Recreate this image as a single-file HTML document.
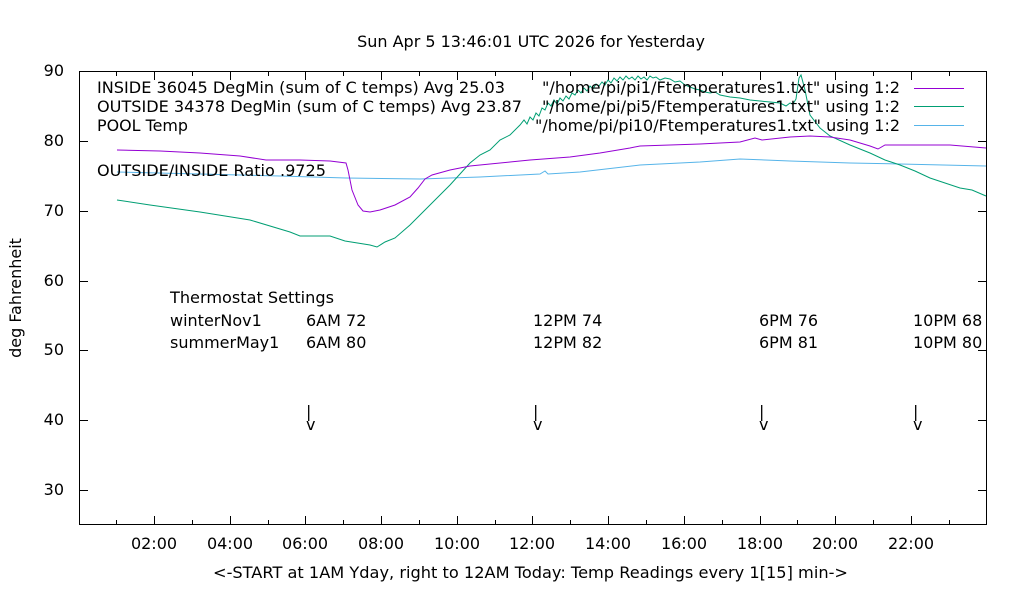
<!DOCTYPE html>
<html><head><meta charset="utf-8"><style>
html,body{margin:0;padding:0;background:#fff;}
svg{display:block;}
text{font-family:"DejaVu Sans","Liberation Sans",sans-serif;font-size:16px;fill:#000;}
</style></head><body>
<svg width="1020" height="600" viewBox="0 0 1020 600" xmlns="http://www.w3.org/2000/svg" xml:space="preserve">
<rect width="1020" height="600" fill="#fff"/>
<text x="531" y="47" text-anchor="middle">Sun Apr  5 13:46:01 UTC 2026 for Yesterday</text>
<rect x="79.5" y="71.5" width="907" height="453" fill="none" stroke="#000" stroke-width="1"/>
<g stroke="#000" stroke-width="1">
<path d="M80 71.5h8M986 71.5h-8M80 141.5h8M986 141.5h-8M80 211.5h8M986 211.5h-8M80 281.5h8M986 281.5h-8M80 350.5h8M986 350.5h-8M80 420.5h8M986 420.5h-8M80 490.5h8M986 490.5h-8"/>
<path d="M154.5 524v-8M230.5 524v-8M305.5 524v-8M381.5 524v-8M457.5 524v-8M532.5 524v-8M608.5 524v-8M684.5 524v-8M760.5 524v-8M835.5 524v-8M911.5 524v-8
M154.5 72v8M230.5 72v8M305.5 72v8M381.5 72v8M457.5 72v8M532.5 72v8M608.5 72v8M684.5 72v8M760.5 72v8M835.5 72v8M911.5 72v8"/>
<path d="M116.5 524v-4M192.5 524v-4M268.5 524v-4M343.5 524v-4M419.5 524v-4M495.5 524v-4M570.5 524v-4M646.5 524v-4M722.5 524v-4M797.5 524v-4M873.5 524v-4M949.5 524v-4
M116.5 72v4M192.5 72v4M268.5 72v4M343.5 72v4M419.5 72v4M495.5 72v4M570.5 72v4M646.5 72v4M722.5 72v4M797.5 72v4M873.5 72v4M949.5 72v4"/>
</g>
<g text-anchor="end">
<text x="64" y="76">90</text><text x="64" y="146">80</text><text x="64" y="216">70</text>
<text x="64" y="286">60</text><text x="64" y="355">50</text><text x="64" y="425">40</text><text x="64" y="495">30</text>
</g>
<g text-anchor="middle">
<text x="154" y="549">02:00</text><text x="230" y="549">04:00</text><text x="305" y="549">06:00</text>
<text x="381" y="549">08:00</text><text x="457" y="549">10:00</text><text x="532" y="549">12:00</text>
<text x="608" y="549">14:00</text><text x="684" y="549">16:00</text><text x="760" y="549">18:00</text>
<text x="835" y="549">20:00</text><text x="911" y="549">22:00</text>
</g>
<text x="213" y="578" textLength="635" lengthAdjust="spacingAndGlyphs">&lt;-START at 1AM Yday, right to 12AM Today:  Temp Readings every 1[15] min-&gt;</text>
<text transform="translate(21 298) rotate(-90)" text-anchor="middle">deg Fahrenheit</text>

<polyline fill="none" stroke="#56b4e9" stroke-width="1" points="117,172 200,174 280,176 346,178 420,179 480,177 540,174 545,171 548,174 580,172 640,165 700,162 740,159 790,161 850,163 900,164 986,166"/>
<polyline fill="none" stroke="#009e73" stroke-width="1" points="117,200 150,205 200,212 250,220 290,232 300,236 330,236 345,241 370,245 377,247 385,242 395,238 410,225 430,205 450,185 470,163 480,155 490,150 500,140 510,135 520,125 524,120 527,124 530,117 533,120 536,113 539,116 542,108 545,110 548,103 551,106 554,100 557,104 560,98 563,101 566,96 569,99 572,93 575,95 578,90 581,93 584,88 587,91 590,86 593,89 596,84 599,86 602,82 605,85 608,80 611,83 614,78 617,81 620,77 623,80 626,76 629,79 632,77 635,80 638,76 641,79 644,77 647,80 650,76 653,78 656,77 660,80 665,78 670,79 675,82 680,81 685,85 690,87 695,89 700,90 705,92 710,93 715,92 720,95 725,96 730,97 740,98 750,100 760,101 770,102 780,103 786,106 790,103 793,104 796,99 799,78 801,75 805,90 810,115 820,128 830,136 850,145 870,153 885,160 900,165 915,171 930,178 945,183 960,188 972,190 986,196"/>
<polyline fill="none" stroke="#9400d3" stroke-width="1" points="117,150 160,151 200,153 240,156 266,160 300,160 330,161 346,163 348,170 352,190 358,205 363,211 370,212 380,210 395,205 410,197 418,188 425,179 432,175 450,170 470,166 490,164 510,162 530,160 570,157 600,153 630,148 640,146 700,144 740,142 755,138 762,140 790,137 810,136 830,137 850,140 870,146 878,149 885,145 950,145 986,148"/>

<text x="97" y="93" textLength="408" lengthAdjust="spacingAndGlyphs">INSIDE 36045 DegMin (sum of C temps) Avg 25.03</text>
<text x="97" y="112" textLength="425" lengthAdjust="spacingAndGlyphs">OUTSIDE 34378 DegMin (sum of C temps) Avg 23.87</text>
<text x="97" y="131" textLength="91" lengthAdjust="spacingAndGlyphs">POOL Temp</text>
<text x="542" y="93" textLength="358" lengthAdjust="spacingAndGlyphs">"/home/pi/pi1/Ftemperatures1.txt" using 1:2</text>
<text x="542" y="112" textLength="358" lengthAdjust="spacingAndGlyphs">"/home/pi/pi5/Ftemperatures1.txt" using 1:2</text>
<text x="535" y="131" textLength="365" lengthAdjust="spacingAndGlyphs">"/home/pi/pi10/Ftemperatures1.txt" using 1:2</text>
<path d="M914 88.5h50" stroke="#9400d3"/>
<path d="M914 106.5h50" stroke="#009e73"/>
<path d="M914 125.5h50" stroke="#56b4e9"/>
<text x="97" y="176" textLength="229" lengthAdjust="spacingAndGlyphs">OUTSIDE/INSIDE Ratio .9725</text>

<text x="170" y="303" textLength="164" lengthAdjust="spacingAndGlyphs">Thermostat Settings</text>
<text x="170" y="326">winterNov1</text><text x="306" y="326">6AM 72</text><text x="533" y="326">12PM 74</text><text x="759" y="326">6PM 76</text><text x="913" y="326">10PM 68</text>
<text x="170" y="348">summerMay1</text><text x="306" y="348">6AM 80</text><text x="533" y="348">12PM 82</text><text x="759" y="348">6PM 81</text><text x="913" y="348">10PM 80</text>
<g>
<text x="306" y="417">|</text><text x="306" y="430">v</text>
<text x="533" y="417">|</text><text x="533" y="430">v</text>
<text x="759" y="417">|</text><text x="759" y="430">v</text>
<text x="913" y="417">|</text><text x="913" y="430">v</text>
</g>
</svg>
</body></html>
